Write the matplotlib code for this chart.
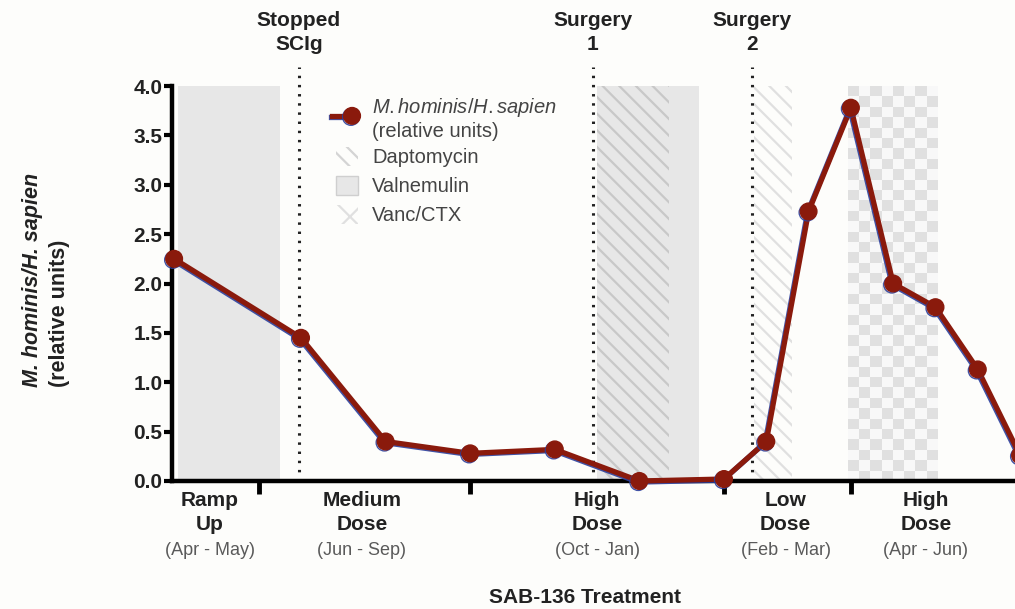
import matplotlib
matplotlib.use("Agg")
import matplotlib.pyplot as plt
import matplotlib.patheffects as pe
from matplotlib.lines import Line2D
from matplotlib.patches import Patch, Rectangle
from matplotlib.legend_handler import HandlerLine2D, HandlerPatch
import numpy as np

plt.rcParams["font.family"] = ["Liberation Sans", "DejaVu Sans"]
plt.rcParams["mathtext.fontset"] = "custom"
plt.rcParams["mathtext.it"] = "Liberation Sans:italic"
plt.rcParams["mathtext.rm"] = "Liberation Sans"
plt.rcParams["hatch.linewidth"] = 1.6

# sample time (month index) and M. hominis / H. sapien ratio
months = [0, 3, 5, 7, 9, 11, 13, 14, 15, 16, 17, 18, 19, 20]
ratio = [2.25, 1.45, 0.40, 0.28, 0.32, 0.0, 0.02, 0.40, 2.73, 3.78, 2.00, 1.76, 1.13, 0.26]

# treatment windows (start, end)
valnemulin = [(0.1, 2.5), (10.0, 12.4)]
daptomycin = [(10.0, 11.7), (13.7, 14.6)]
vanc_ctx = (15.93, 18.04)

events = [2.95, 9.9, 13.66]
event_labels = ["Stopped\nSCIg", "Surgery\n1", "Surgery\n2"]

phase_ticks = [2, 7, 13, 16]
phase_centers = [0.85, 4.44, 10.0, 14.46, 17.77]
phase_names = ["Ramp\nUp", "Medium\nDose", "High\nDose", "Low\nDose", "High\nDose"]
phase_dates = ["(Apr - May)", "(Jun - Sep)", "(Oct - Jan)", "(Feb - Mar)", "(Apr - Jun)"]

RED = "#8a1a0c"
GREY = "#e7e7e7"
DARK = "#222222"


class EndMarkerHandler(HandlerLine2D):
    # legend line with its marker only at the right end
    def create_artists(self, *args, **kwargs):
        artists = super().create_artists(*args, **kwargs)
        for a in artists:
            if a.get_marker() not in (None, "None", "", " "):
                a.set_markevery([1])
        return artists


def small_box(legend, orig_handle, xdescent, ydescent, width, height, fontsize):
    w, h = 16, 14
    return Rectangle((-xdescent + width - w, -ydescent + (height - h) / 2), w, h)


fig = plt.figure(figsize=(10.15, 6.09), dpi=100)
fig.patch.set_facecolor("#fdfdfb")
ax = fig.add_axes([172 / 1015, 128 / 609, 843 / 1015, 395 / 609])
ax.set_facecolor("none")

for x0, x1 in valnemulin:
    ax.axvspan(x0, x1, color=GREY, lw=0, zorder=0)
ax.fill_between(daptomycin[0], 0, 4, facecolor="none", edgecolor="#c8c8c8",
                hatch="\\\\", lw=0, zorder=1)
ax.fill_between(daptomycin[1], 0, 4, facecolor="none", edgecolor="#e0e0e0",
                hatch="\\\\", lw=0, zorder=1)

checker = (np.indices((38, 8)).sum(axis=0) % 2).astype(float)
ax.imshow(checker, extent=(vanc_ctx[0], vanc_ctx[1], 0, 4), aspect="auto",
          cmap=matplotlib.colors.ListedColormap(["#e0e0e0", "#f8f8f8"]),
          interpolation="nearest", zorder=0)

for xe, lab in zip(events, event_labels):
    ax.plot([xe, xe], [0, 4.19], color=DARK, lw=2.2, ls=(0, (0.8, 2.2)),
            clip_on=False, zorder=2)
    ax.text(xe, 1.135, lab, transform=ax.get_xaxis_transform(), ha="center",
            va="center", fontsize=15, fontweight="bold", color=DARK,
            linespacing=1.3)

shadow = [pe.SimpleLineShadow(offset=(-0.8, -0.8), shadow_color="#2c3f9c", alpha=0.9),
          pe.Normal()]
ax.plot(months, ratio, color=RED, lw=3.8, marker="o", ms=12, clip_on=False,
        zorder=5, path_effects=shadow)

ax.set_xlim(-0.05, 19.88)
ax.set_ylim(0, 4)
ax.set_yticks(np.arange(0, 4.01, 0.5))
ax.set_yticklabels([f"{v:.1f}" for v in np.arange(0, 4.01, 0.5)])
ax.set_xticks(phase_ticks)
ax.set_xticklabels([])
ax.tick_params(axis="y", length=6, width=3, labelsize=15, pad=1, labelcolor=DARK)
ax.tick_params(axis="x", length=9, width=3.5, direction="out")
for lab in ax.get_yticklabels():
    lab.set_fontweight("bold")
for s in ["top", "right"]:
    ax.spines[s].set_visible(False)
for s in ["left", "bottom"]:
    ax.spines[s].set_linewidth(3.2)
ax.spines["bottom"].set_zorder(4)

for xc, name, date in zip(phase_centers, phase_names, phase_dates):
    ax.text(xc, -0.08, name, transform=ax.get_xaxis_transform(), ha="center",
            va="center", fontsize=15, fontweight="bold", color=DARK,
            linespacing=1.3)
    ax.text(xc, -0.175, date, transform=ax.get_xaxis_transform(), ha="center",
            va="center", fontsize=13, color="#5a5a5a")

ax.text(9.71, -0.296, "SAB-136 Treatment", transform=ax.get_xaxis_transform(),
        ha="center", va="center", fontsize=15, fontweight="bold", color=DARK)

fig.text(33 / 1015, 1 - 387 / 609, "M. hominis/H. sapien", rotation=90,
         ha="center", va="bottom", fontsize=15.5, fontweight="bold",
         fontstyle="italic", color=DARK)
fig.text(60 / 1015, 1 - 387 / 609, "(relative units)", rotation=90,
         ha="center", va="bottom", fontsize=15.5, fontweight="bold", color=DARK)

line_handle = Line2D([], [], color=RED, lw=3.8, marker="o", ms=12, path_effects=shadow)
handles = [
    line_handle,
    Patch(facecolor="none", edgecolor="#d4d4d4", hatch="\\\\", lw=0),
    Patch(facecolor=GREY, edgecolor="#cfcfcf", lw=1),
    Patch(facecolor="none", edgecolor="#e0e0e0", hatch="x", lw=0),
]
labels = [r"$\mathit{M.hominis/H.sapien}$" + "\n(relative units)",
          "Daptomycin", "Valnemulin", "Vanc/CTX"]
leg = ax.legend(handles, labels, loc="upper left", bbox_to_anchor=(0.173, 0.996),
                frameon=False, fontsize=14.5, handlelength=1.6, handleheight=1.6,
                labelspacing=0.15, handletextpad=0.7,
                borderaxespad=0,
                handler_map={line_handle: EndMarkerHandler(numpoints=2),
                             Patch: HandlerPatch(patch_func=small_box)})
for t in leg.get_texts():
    t.set_color("#444444")

fig.savefig("out.png", dpi=100, facecolor=fig.get_facecolor())
